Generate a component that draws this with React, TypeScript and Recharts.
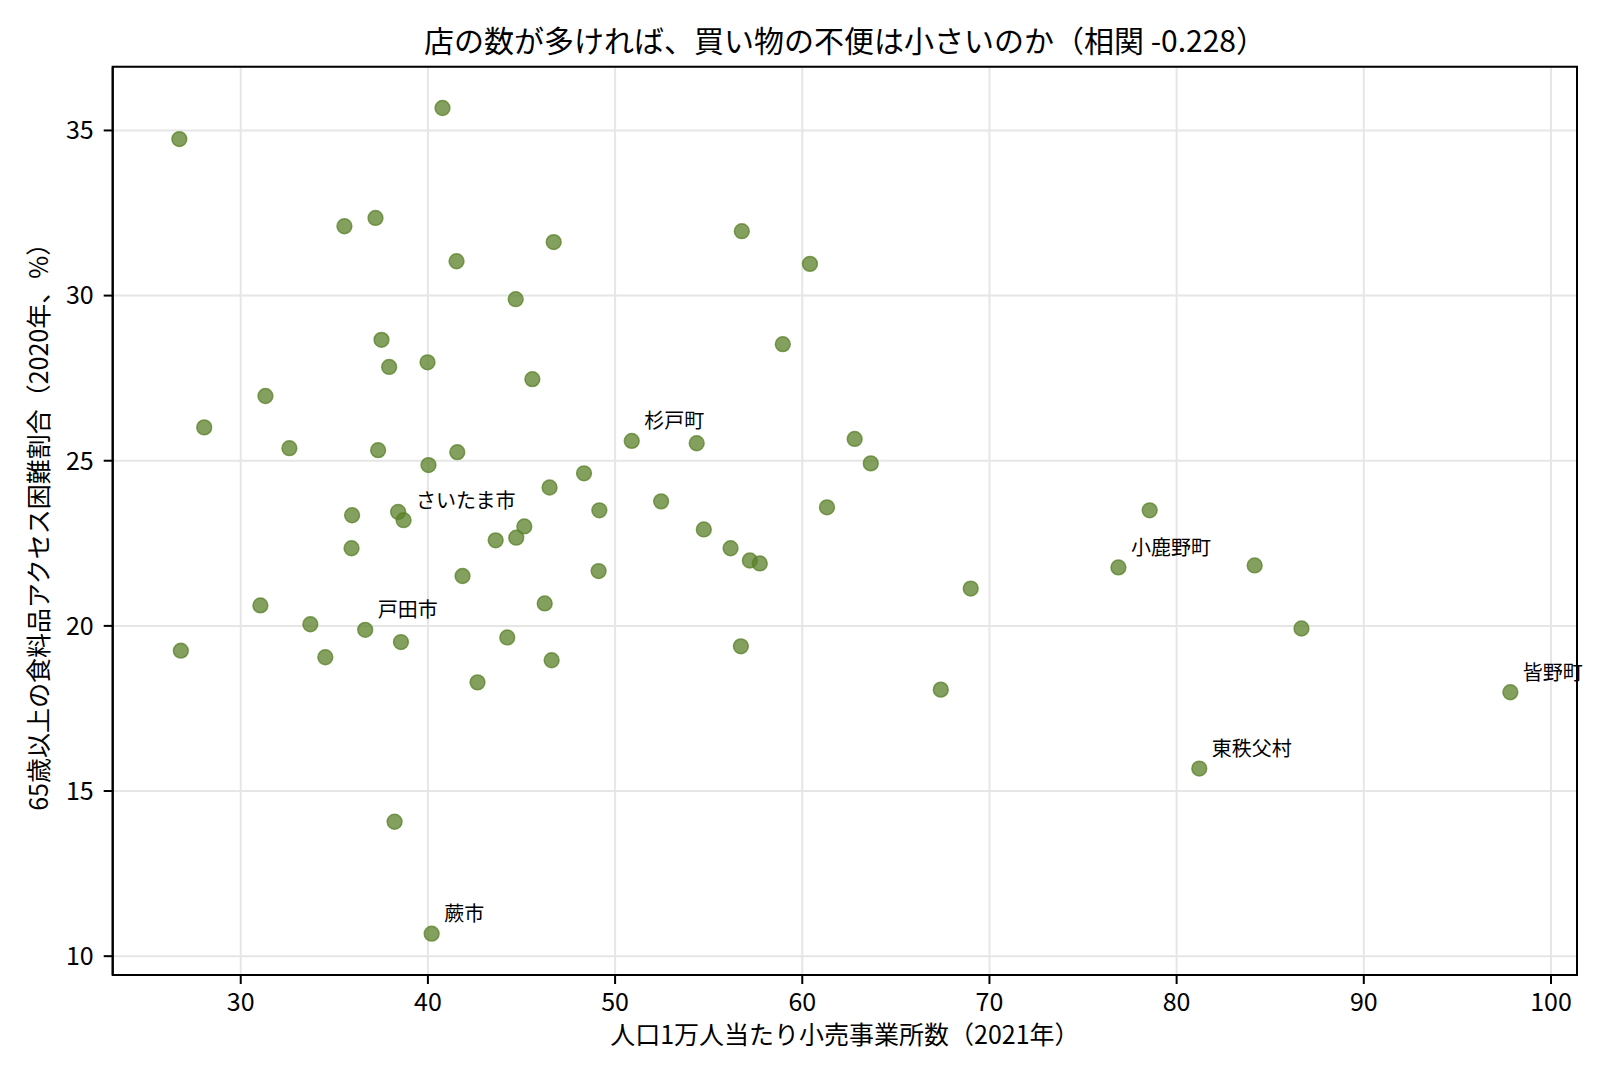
import { ScatterChart, Scatter, XAxis, YAxis, CartesianGrid, ReferenceArea } from 'recharts';

const FONT = '"Noto Sans CJK JP", "Noto Sans", sans-serif';

// retail establishments per 10k people (2021)
const retailPer10k = [
  26.72, 40.78, 35.54, 37.2, 41.53, 46.72, 56.77, 60.41, 44.69, 58.96,
  37.52, 39.98, 37.93, 45.58, 31.32, 28.05, 32.6, 37.34, 41.57, 40.03,
  50.89, 54.36, 62.8, 63.66, 48.34, 46.5, 52.46, 49.16, 61.32, 35.95,
  38.41, 38.7, 45.15, 43.62, 44.72, 54.74, 35.92, 56.17, 57.2, 57.73,
  76.89, 78.56, 84.17, 41.85, 49.12, 69.0, 31.05, 46.24, 33.72, 36.65,
  38.56, 44.24, 26.8, 34.52, 46.61, 56.72, 86.67, 42.65, 67.4, 97.83,
  81.21, 38.22, 40.2,
];

// share of 65+ with difficult food access (2020, %)
const foodAccessPct = [
  34.74, 35.68, 32.1, 32.35, 31.04, 31.62, 31.95, 30.96, 29.89, 28.53,
  28.66, 27.98, 27.84, 27.47, 26.96, 26.01, 25.38, 25.32, 25.26, 24.87,
  25.6, 25.53, 25.66, 24.92, 24.62, 24.19, 23.77, 23.5, 23.59, 23.35,
  23.45, 23.2, 23.01, 22.59, 22.67, 22.92, 22.35, 22.35, 21.98, 21.89,
  21.77, 23.5, 21.83, 21.51, 21.66, 21.13, 20.62, 20.68, 20.05, 19.88,
  19.51, 19.65, 19.25, 19.05, 18.96, 19.38, 19.92, 18.29, 18.07, 17.99,
  15.68, 14.07, 10.68,
];

const labelNames = ['杉戸町', 'さいたま市', '小鹿野町', '戸田市', '皆野町', '東秩父村', '蕨市'];
const labelIndex = [20, 31, 40, 49, 59, 60, 62];

const xTicks = [30, 40, 50, 60, 70, 80, 90, 100];
const yTicks = [10, 15, 20, 25, 30, 35];
const X_DOMAIN: [number, number] = [23.16, 101.39];
const Y_DOMAIN: [number, number] = [9.43, 36.93];

const TITLE = '店の数が多ければ、買い物の不便は小さいのか（相関 -0.228）';
const X_LABEL = '人口1万人当たり小売事業所数（2021年）';
const Y_LABEL = '65歳以上の食料品アクセス困難割合（2020年、%）';

const GREEN = '#5a8028';

const points = retailPer10k.map((x, i) => ({ x, y: foodAccessPct[i] }));
const labelled = labelIndex.map((idx, i) => ({
  x: retailPer10k[idx],
  y: foodAccessPct[idx],
  name: labelNames[i],
}));

const Dot = (p: any) => (
  <circle
    cx={p.cx}
    cy={p.cy}
    r={7.4}
    fill={GREEN}
    fillOpacity={0.75}
    stroke={GREEN}
    strokeOpacity={0.75}
    strokeWidth={1.5}
  />
);

const TownLabel = (p: any) => (
  <text x={p.cx + 12.5} y={p.cy - 12.5} fontSize={20} fontFamily={FONT} fill="#000">
    {p.payload.name}
  </text>
);

export default function App() {
  const tickStyle = { fill: '#000', fontSize: 25, fontFamily: FONT };
  return (
    <div style={{ position: 'absolute', left: 0, top: 0, width: 1620, height: 1080, background: '#fff' }}>
      <ScatterChart
        width={1620}
        height={1080}
        margin={{ top: 66.7, right: 43, bottom: 35, left: 52.7 }}
        style={{ fontFamily: FONT }}
      >
        <CartesianGrid stroke="#e6e6e6" strokeWidth={2} />
        <XAxis
          type="number"
          dataKey="x"
          domain={X_DOMAIN}
          ticks={xTicks}
          height={70}
          tick={tickStyle}
          tickSize={9}
          tickMargin={9}
          tickLine={{ stroke: '#000', strokeWidth: 2 }}
          axisLine={{ stroke: '#000', strokeWidth: 2 }}
          label={{ value: X_LABEL, position: 'insideBottom', offset: 1, fill: '#000', fontSize: 25, fontFamily: FONT }}
        />
        <YAxis
          type="number"
          dataKey="y"
          domain={Y_DOMAIN}
          ticks={yTicks}
          width={60}
          tick={tickStyle}
          tickSize={9}
          tickMargin={10}
          tickLine={{ stroke: '#000', strokeWidth: 2 }}
          axisLine={{ stroke: '#000', strokeWidth: 2 }}
          label={{
            value: Y_LABEL,
            angle: -90,
            position: 'insideLeft',
            offset: -13.7,
            fill: '#000',
            fontSize: 25,
            fontFamily: FONT,
            style: { textAnchor: 'middle' },
          }}
        />
        <ReferenceArea
          x1={X_DOMAIN[0]}
          x2={X_DOMAIN[1]}
          y1={Y_DOMAIN[0]}
          y2={Y_DOMAIN[1]}
          fill="none"
          stroke="#000"
          strokeWidth={2}
          ifOverflow="visible"
        />
        <Scatter data={points} shape={Dot} isAnimationActive={false} />
        <Scatter data={labelled} shape={TownLabel} isAnimationActive={false} />
      </ScatterChart>
      <svg
        width={1620}
        height={80}
        style={{ position: 'absolute', left: 0, top: 0, pointerEvents: 'none' }}
      >
        <text x={845} y={52} textAnchor="middle" fontSize={30} fontFamily={FONT} fill="#000">
          {TITLE}
        </text>
      </svg>
    </div>
  );
}
